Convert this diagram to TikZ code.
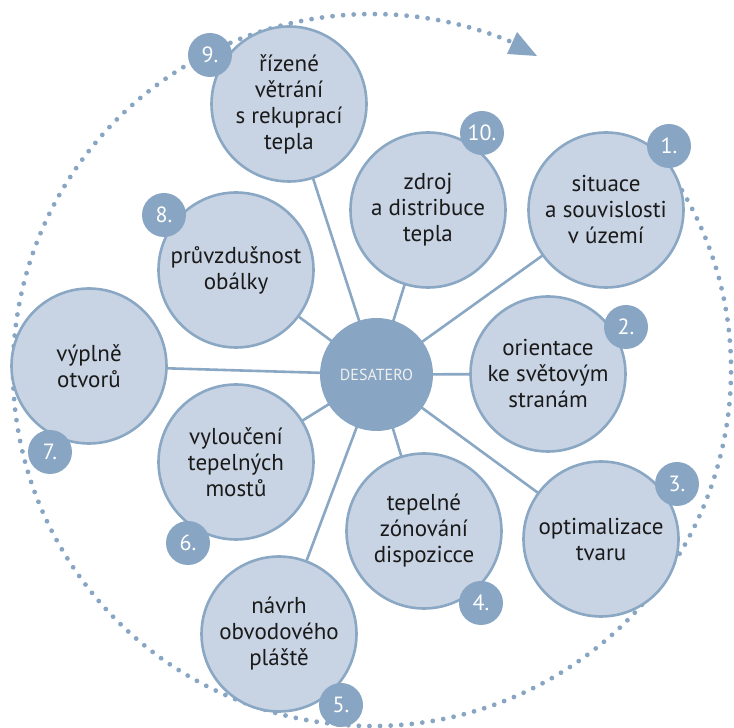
\documentclass[tikz,border=0pt]{standalone}
\usepackage{fontspec}
\setmainfont{PT Sans}
\usetikzlibrary{backgrounds}
\definecolor{dark}{HTML}{88A6C3}
\definecolor{light}{HTML}{C8D3E3}
\definecolor{rim}{HTML}{8AA7C4}
\definecolor{ink}{HTML}{1A1A1A}
\tikzset{
  topic/.style={circle, draw=rim, line width=2.6pt, fill=light, minimum size=155pt, inner sep=0pt,
    align=center, text=ink, font=\fontsize{23}{26}\selectfont},
  hub/.style={circle, fill=dark, minimum size=113pt, inner sep=0pt, text=white!94!black,
    font=\fontsize{16}{18}\selectfont},
  badge/.style={circle, fill=dark, minimum size=44pt, inner sep=0pt, text=white,
    font=\fontsize{22}{24}\selectfont},
  link/.style={draw=rim, line width=2.6pt},
  dotarc/.style={draw=dark, line width=4.8pt, line cap=round, dash pattern=on 0pt off 10.6pt}
}
\begin{document}
\begin{tikzpicture}[x=1pt,y=1pt]
\useasboundingbox (0,0) rectangle (734,728);
\coordinate (O) at (372,358);
\node[hub] (C) at (376.5,353.5) {DESATERO};
\node[topic] (n1) at (606,518) {situace\\a souvislosti\\v území};
\node[topic] (n2) at (548,354) {orientace\\ke světovým\\stranám};
\node[topic] (n3) at (601,189) {optimalizace\\tvaru};
\node[topic] (n4) at (424,197) {tepelné\\zónování\\dispozicce};
\node[topic] (n5) at (279,94) {návrh\\obvodového\\pláště};
\node[topic] (n6) at (236,266) {vyloučení\\tepelných\\mostů};
\node[topic] (n7) at (89,362) {výplně\\otvorů};
\node[topic] (n8) at (236,458) {průvzdušnost\\obálky};
\node[topic] (n9) at (289,624) {řízené\\větrání\\s rekuprací\\tepla};
\node[topic] (n10) at (428,518) {zdroj\\a distribuce\\tepla};
\node[badge] (b1) at (669,582) {1.};
\node[badge] (b2) at (626,401) {2.};
\node[badge] (b3) at (677,244) {3.};
\node[badge] (b4) at (481,125) {4.};
\node[badge] (b5) at (341,23) {5.};
\node[badge] (b6) at (188,185) {6.};
\node[badge] (b7) at (50,276) {7.};
\node[badge] (b8) at (164,513) {8.};
\node[badge] (b9) at (210,673) {9.};
\node[badge] (b10) at (482,595) {10.};
\begin{pgfonlayer}{background}
  \draw[dotarc] (O) ++(32:359 and 356) arc[start angle=32, end angle=-293.5, x radius=359, y radius=356];
  \fill[dark] (517,696) -- (507,674) -- (537,672) -- cycle;
  \foreach \k in {1,...,10} { \draw[link] (C.center) -- (n\k.center); }
\end{pgfonlayer}
\end{tikzpicture}
\end{document}
